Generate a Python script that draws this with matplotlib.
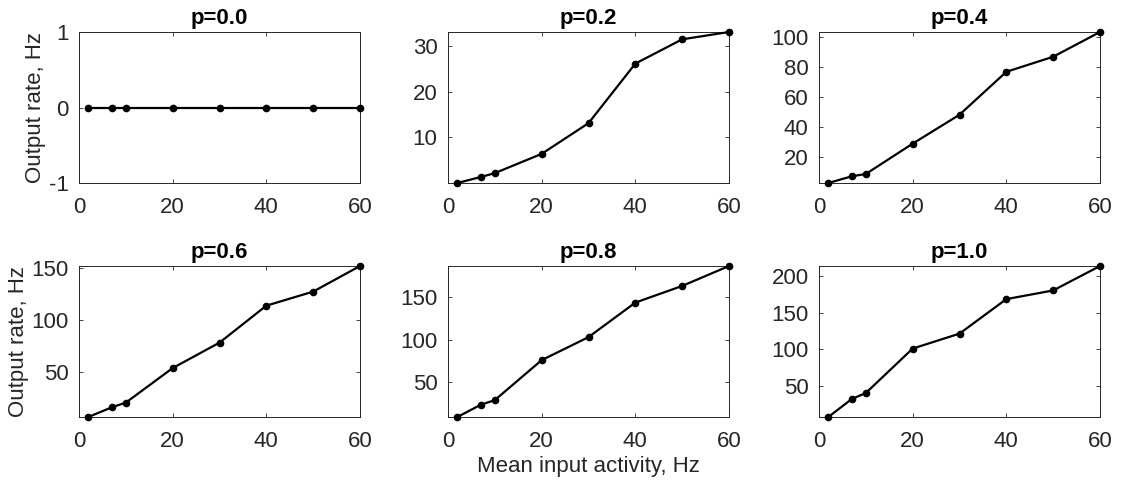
import numpy as np
import matplotlib
matplotlib.use("Agg")
import matplotlib.pyplot as plt

plt.rcParams["font.family"] = ["Liberation Sans", "DejaVu Sans"]
plt.rcParams["axes.unicode_minus"] = False

input_rate = [2, 7, 10, 20, 30, 40, 50, 60]
p_values = ["0.0", "0.2", "0.4", "0.6", "0.8", "1.0"]
output_rate = [
    [0, 0, 0, 0, 0, 0, 0, 0],
    [0.04, 1.35, 2.2, 6.4, 13.1, 26.1, 31.4, 33.0],
    [2.3, 6.8, 8.35, 28.7, 48.1, 76.9, 87.0, 103.6],
    [6.9, 16.2, 20.7, 53.9, 78.3, 113.8, 127.3, 151.9],
    [8.3, 22.8, 28.3, 75.6, 102.8, 143.7, 163.4, 187.0],
    [7.1, 31.8, 40.0, 100.9, 121.4, 168.7, 180.6, 214.1],
]
y_ticks = [
    [-1, 0, 1],
    [10, 20, 30],
    [20, 40, 60, 80, 100],
    [50, 100, 150],
    [50, 100, 150],
    [50, 100, 150, 200],
]
x_ticks = [0, 20, 40, 60]

fig = plt.figure(figsize=(11.21, 4.83), dpi=100)

lefts = [79, 448, 819]
bottoms = [183, 417]
w_px, h_px = 281, 151
W, H = 1121, 483
axis_color = "#262626"

for i, (p, rates, yt) in enumerate(zip(p_values, output_rate, y_ticks)):
    row, col = divmod(i, 3)
    ax = fig.add_axes([lefts[col] / W, 1 - bottoms[row] / H, w_px / W, h_px / H])
    ax.plot(input_rate, rates, color="black", lw=1.6, marker="o", ms=4.5,
            clip_on=False, zorder=3)
    ax.set_xlim(0, 60)
    if max(rates) == min(rates):
        ax.set_ylim(min(rates) - 1, max(rates) + 1)
    else:
        ax.set_ylim(min(rates), max(rates))
    ax.set_xticks(x_ticks)
    ax.set_yticks(yt)
    ax.tick_params(direction="in", top=True, right=True, length=3,
                   width=0.6, labelsize=16, colors=axis_color)
    ax.tick_params(axis="x", pad=10)
    ax.tick_params(axis="y", pad=7.5)
    for s in ax.spines.values():
        s.set_color(axis_color)
        s.set_linewidth(0.7)
    ax.set_title(f"p={p}", fontsize=16, fontweight="bold", pad=6)
    if col == 0:
        ax.set_ylabel("Output rate, Hz", fontsize=16, color=axis_color,
                      labelpad=2)
    if row == 1 and col == 1:
        ax.set_xlabel("Mean input activity, Hz", fontsize=16,
                      color=axis_color, labelpad=3)

fig.savefig("out.png", dpi=100)
